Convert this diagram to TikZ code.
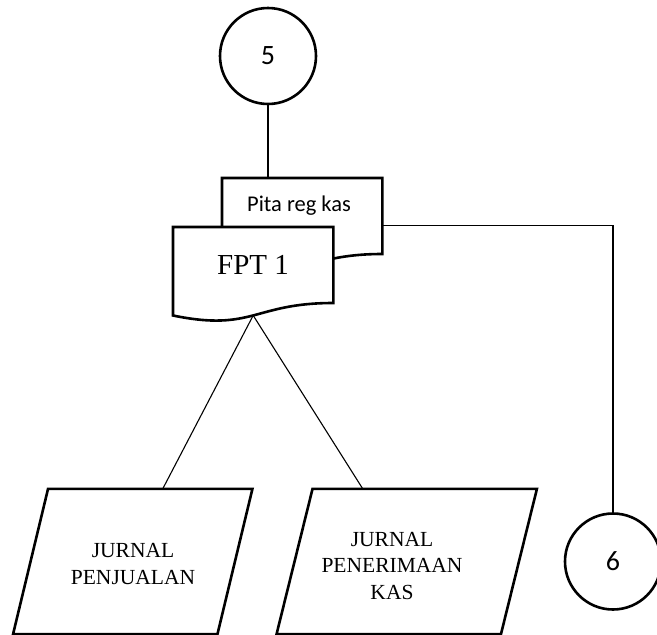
\documentclass[tikz,border=0pt]{standalone}
\usepackage{fontspec}
\setmainfont{Liberation Serif}
\newfontfamily\carlito{Carlito}
\usetikzlibrary{calc}
\begin{document}
\begin{tikzpicture}[x=1pt,y=-1pt,
  outline/.style={line width=2.6pt,line join=miter},
  link/.style={line width=1.1pt},
  connector/.style={circle,draw,line width=2.6pt,minimum size=96pt,inner sep=0pt,
                    font=\carlito\fontsize{28}{30}\selectfont},
  docbox/.style={rectangle,minimum width=160pt,minimum height=95pt,inner sep=0pt,anchor=north west},
  journal/.style={rectangle,minimum height=145pt,inner sep=0pt},
  serif/.style={font=\fontsize{21.5}{26.5}\selectfont,align=center}]
\useasboundingbox (0,0) rectangle (657,635);

% off-page connectors
\node[connector] (c5) at (268,56) {5};
\node[connector] (c6) at (613,561.5) {6};

% document frames (Pita behind FPT)
\node[docbox] (pita) at (222,178) {};
\node[docbox] (fpt) at (173,227) {};

\fill[white] (pita.north west) -- (pita.north east) -- ($(pita.north east)+(0,76)$)
  .. controls ($(pita.north)+(0,76)$) and ($(pita.north)+(0,105)$) .. ($(pita.north west)+(0,88.5)$) -- cycle;
\draw[outline] (pita.north west) -- (pita.north east) -- ($(pita.north east)+(0,76)$)
  .. controls ($(pita.north)+(0,76)$) and ($(pita.north)+(0,105)$) .. ($(pita.north west)+(0,88.5)$) -- cycle;
\node[font=\carlito\fontsize{22.5}{24}\selectfont] (pitatext) at (299,206) {Pita reg kas};

\fill[white] (fpt.north west) -- (fpt.north east) -- ($(fpt.north east)+(0,76)$)
  .. controls ($(fpt.north)+(0,76)$) and ($(fpt.north)+(0,105)$) .. ($(fpt.north west)+(0,88.5)$) -- cycle;
\draw[outline] (fpt.north west) -- (fpt.north east) -- ($(fpt.north east)+(0,76)$)
  .. controls ($(fpt.north)+(0,76)$) and ($(fpt.north)+(0,105)$) .. ($(fpt.north west)+(0,88.5)$)
  coordinate[pos=0.5] (fptbot) -- cycle;
\node[font=\fontsize{29}{31}\selectfont] (fpttext) at (253,265) {FPT 1};

% journals
\node[journal,minimum width=204pt] (jp) at (132.75,561.5) {};
\node[journal,minimum width=224pt] (jk) at (406.75,561.5) {};
\draw[outline] ($(jp.north west)+(17.5,0)$) -- ($(jp.north east)+(17.5,0)$)
  -- ($(jp.south east)+(-17.5,0)$) -- ($(jp.south west)+(-17.5,0)$) -- cycle;
\draw[outline] ($(jk.north west)+(18,0)$) -- ($(jk.north east)+(18,0)$)
  -- ($(jk.south east)+(-18,0)$) -- ($(jk.south west)+(-18,0)$) -- cycle;
\node[serif] (jptext) at (133,564) {JURNAL\\PENJUALAN};
\node[serif] (jktext) at (392,566) {JURNAL\\PENERIMAAN\\KAS};

% connectors
\draw[link] (c5.south) -- (c5.south |- pita.north);
\draw[link] (pita.east) -- (pita.east -| c6) -- (c6.north);
\coordinate (jpin) at ($(jp.north)+(30,0)$);
\coordinate (jkin) at ($(jk.north)+(-44,0)$);
\draw[link] (fptbot) -- (jpin);
\draw[link] (fptbot) -- (jkin);
\end{tikzpicture}
\end{document}
